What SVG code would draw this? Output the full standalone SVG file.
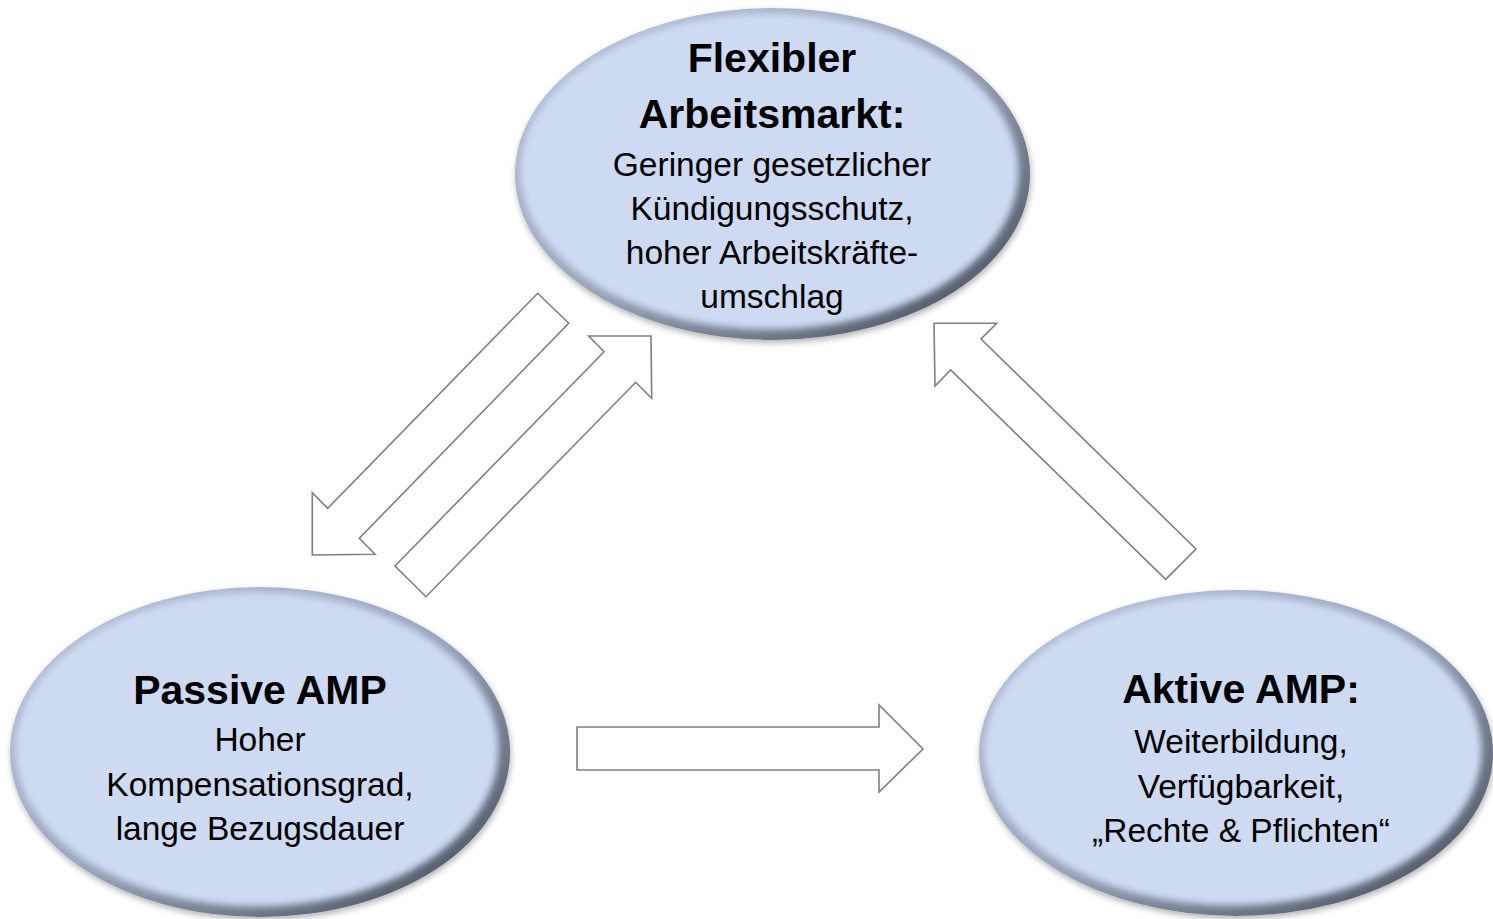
<svg xmlns="http://www.w3.org/2000/svg" width="1493" height="919" viewBox="0 0 1493 919">
<defs>
<linearGradient id="rim" x1="0" y1="0" x2="1" y2="1">
<stop offset="0" stop-color="#b9c5dc"/>
<stop offset="0.5" stop-color="#9aa5bb"/>
<stop offset="1" stop-color="#3f4553"/>
</linearGradient>
<filter id="bl" x="-5%" y="-5%" width="110%" height="110%">
<feGaussianBlur stdDeviation="3.5"/>
</filter>
<filter id="sh" x="-10%" y="-10%" width="120%" height="120%">
<feGaussianBlur in="SourceAlpha" stdDeviation="3"/>
<feOffset dx="1" dy="3"/>
<feComponentTransfer><feFuncA type="linear" slope="0.3"/></feComponentTransfer>
<feMerge><feMergeNode/><feMergeNode in="SourceGraphic"/></feMerge>
</filter>
<clipPath id="c1"><ellipse cx="772.5" cy="174" rx="257.5" ry="166"/></clipPath>
<clipPath id="c2"><ellipse cx="260" cy="752" rx="250" ry="165"/></clipPath>
<clipPath id="c3"><ellipse cx="1236" cy="753" rx="257" ry="163"/></clipPath>
</defs>
<style>
.outer{fill:url(#rim);filter:url(#sh)}
.inner{fill:#cddaf2;filter:url(#bl)}
.t{font-family:"Liberation Sans",Arial,sans-serif;text-anchor:middle;fill:#000}
.h{font-size:41px;font-weight:bold}
.b{font-size:33.5px}
.arr{fill:#fff;stroke:#7f7f7f;stroke-width:1.6;stroke-linejoin:miter}
</style>
<rect width="1493" height="919" fill="#fff"/>
<g id="connectors">
<polygon class="arr" points="537.7,293.3 568.7,323.3 359.3,538.3 375,554.3 312.3,555 312.3,492.7 327.7,508.3"/>
<polygon class="arr" points="426,596.7 395,566 604,351.7 588.7,336 651,336 651.7,398.3 635.7,382.3"/>
<polygon class="arr" points="934,323.3 996.7,323.3 981,339 1196,549 1165.7,579.3 950.7,370 935,386"/>
<polygon class="arr" points="577,727 879,727 879,705 923,749 879,792 879,770 577,770"/>
</g>
<g id="flexibler">
<ellipse class="outer" cx="772.5" cy="174" rx="257.5" ry="166"/>
<g clip-path="url(#c1)"><ellipse class="inner" cx="769.5" cy="171.5" rx="249" ry="158"/></g>
<text class="t h" x="772" y="72">Flexibler</text>
<text class="t h" x="772" y="128">Arbeitsmarkt:</text>
<text class="t b" x="772" y="176">Geringer gesetzlicher</text>
<text class="t b" x="772" y="220">Kündigungsschutz,</text>
<text class="t b" x="772" y="264">hoher Arbeitskräfte-</text>
<text class="t b" x="772" y="308">umschlag</text>
</g>
<g id="passive">
<ellipse class="outer" cx="260" cy="752" rx="250" ry="165"/>
<g clip-path="url(#c2)"><ellipse class="inner" cx="257" cy="749.5" rx="241.5" ry="157"/></g>
<text class="t h" x="260" y="704">Passive AMP</text>
<text class="t b" x="260" y="751">Hoher</text>
<text class="t b" x="260" y="796">Kompensationsgrad,</text>
<text class="t b" x="260" y="840">lange Bezugsdauer</text>
</g>
<g id="aktive">
<ellipse class="outer" cx="1236" cy="753" rx="257" ry="163"/>
<g clip-path="url(#c3)"><ellipse class="inner" cx="1233" cy="750.5" rx="248.5" ry="155"/></g>
<text class="t h" x="1241" y="703">Aktive AMP:</text>
<text class="t b" x="1241" y="753">Weiterbildung,</text>
<text class="t b" x="1241" y="798">Verfügbarkeit,</text>
<text class="t b" x="1241" y="842">„Rechte &amp; Pflichten“</text>
</g>
</svg>
